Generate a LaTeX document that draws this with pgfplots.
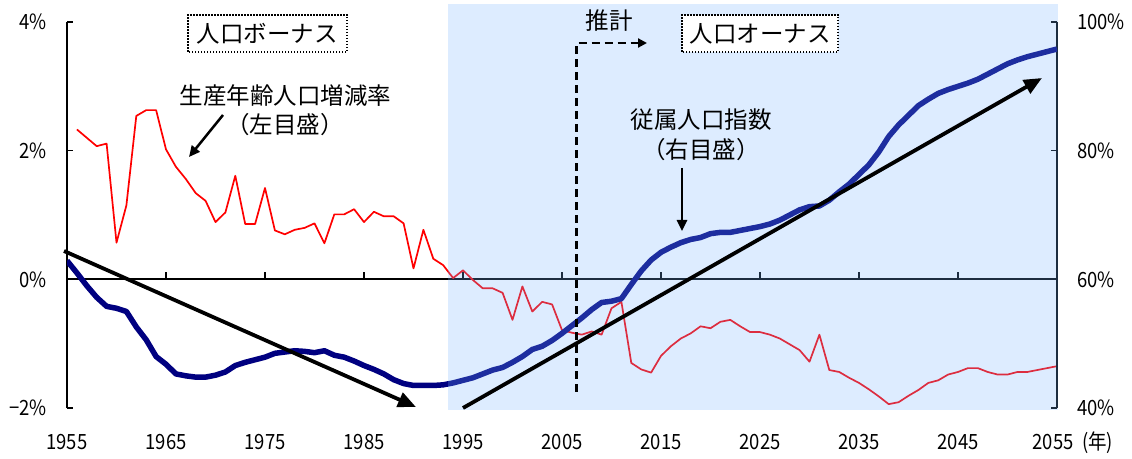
\documentclass[border=0pt]{standalone}
\usepackage{fontspec}
\setmainfont{Noto Sans CJK JP}
\newfontfamily\tickfam[FakeStretch=0.88]{Noto Sans CJK JP}
\usepackage{pgfplots}
\usepackage{pgfplotstable}
\pgfplotsset{compat=1.18}
\usetikzlibrary{arrows.meta}
\definecolor{redline}{RGB}{255,0,0}
\definecolor{navyline}{RGB}{0,0,128}
\definecolor{shadecol}{RGB}{119,180,255}
\newcommand{\tickfont}{\tickfam\fontsize{21bp}{24bp}\selectfont}
\newcommand{\jpfont}{\fontsize{23.5bp}{27bp}\selectfont}
\pgfplotstableread{
year val
1956 2.33
1957 2.20
1958 2.07
1959 2.11
1960 0.57
1961 1.15
1962 2.54
1963 2.63
1964 2.63
1965 2.02
1966 1.75
1967 1.56
1968 1.34
1969 1.22
1970 0.89
1971 1.04
1972 1.61
1973 0.86
1974 0.86
1975 1.42
1976 0.76
1977 0.70
1978 0.77
1979 0.80
1980 0.87
1981 0.56
1982 1.01
1983 1.01
1984 1.09
1985 0.89
1986 1.05
1987 0.98
1988 0.98
1989 0.87
1990 0.17
1991 0.77
1992 0.32
1993 0.22
1994 0.02
1995 0.14
1996 -0.01
1997 -0.14
1998 -0.14
1999 -0.21
2000 -0.63
2001 -0.11
2002 -0.50
2003 -0.35
2004 -0.39
2005 -0.79
2006 -0.83
2007 -0.86
2008 -0.81
2009 -0.86
2010 -0.45
2011 -0.35
2012 -1.30
2013 -1.40
2014 -1.45
2015 -1.19
2016 -1.04
2017 -0.92
2018 -0.84
2019 -0.73
2020 -0.76
2021 -0.66
2022 -0.63
2023 -0.73
2024 -0.82
2025 -0.82
2026 -0.86
2027 -0.92
2028 -1.01
2029 -1.10
2030 -1.28
2031 -0.86
2032 -1.41
2033 -1.44
2034 -1.53
2035 -1.61
2036 -1.71
2037 -1.82
2038 -1.94
2039 -1.91
2040 -1.81
2041 -1.72
2042 -1.61
2043 -1.57
2044 -1.48
2045 -1.44
2046 -1.38
2047 -1.38
2048 -1.44
2049 -1.48
2050 -1.48
2051 -1.44
2052 -1.44
2053 -1.41
2054 -1.38
2055 -1.35
}\redtable
\pgfplotstableread{
year val
1955 62.9
1956 61.0
1957 59.0
1958 57.2
1959 55.8
1960 55.5
1961 55.0
1962 52.6
1963 50.6
1964 48.0
1965 46.8
1966 45.3
1967 45.0
1968 44.8
1969 44.8
1970 45.1
1971 45.6
1972 46.6
1973 47.1
1974 47.5
1975 47.9
1976 48.5
1977 48.7
1978 48.9
1979 48.8
1980 48.6
1981 48.9
1982 48.2
1983 47.9
1984 47.3
1985 46.6
1986 46.0
1987 45.3
1988 44.4
1989 43.8
1990 43.5
1991 43.5
1992 43.5
1993 43.6
1994 43.9
1995 44.3
1996 44.7
1997 45.3
1998 45.9
1999 46.3
2000 47.1
2001 48.0
2002 49.1
2003 49.6
2004 50.5
2005 51.6
2006 52.8
2007 54.0
2008 55.3
2009 56.4
2010 56.6
2011 57.0
2012 59.2
2013 61.3
2014 63.0
2015 64.2
2016 65.0
2017 65.7
2018 66.2
2019 66.5
2020 67.1
2021 67.3
2022 67.3
2023 67.6
2024 67.9
2025 68.2
2026 68.6
2027 69.2
2028 70.0
2029 70.8
2030 71.3
2031 71.4
2032 72.3
2033 73.6
2034 74.8
2035 76.3
2036 77.8
2037 79.8
2038 82.2
2039 84.0
2040 85.5
2041 87.0
2042 88.0
2043 88.9
2044 89.5
2045 90.0
2046 90.5
2047 91.1
2048 91.9
2049 92.7
2050 93.5
2051 94.1
2052 94.6
2053 95.0
2054 95.4
2055 95.8
}\bluetable
\begin{document}
\begin{tikzpicture}
\path[use as bounding box] (0,0) rectangle (1132bp,459bp);
\begin{axis}[
  at={(67bp,51bp)}, anchor=south west,
  scale only axis, width=990bp, height=386bp,
  xmin=1955, xmax=2055, ymin=-2, ymax=4,
  axis y line*=left, axis x line*=bottom,
  x axis line style={draw=none},
  xtick={1955,1965,1975,1985,1995,2005,2015,2025,2035,2045,2054.6},
  xticklabels={1955,1965,1975,1985,1995,2005,2015,2025,2035,2045,2055},
  xtick style={draw=none},
  ytick={-2,0,2,4}, yticklabels={−2\%,0\%,2\%,4\%},
  ytick style={black, line width=1.2bp},
  tick align=inside, major tick length=6bp,
  y axis line style={black, line width=1.8bp},
  ticklabel style={font=\tickfont, inner sep=0pt},
  yticklabel style={xshift=-20bp},
  xticklabel style={yshift=-26bp},
  clip=false,
]
\draw[black, line width=2bp] (axis cs:1955,0) -- (axis cs:2055,0);
\pgfplotsinvokeforeach{1965,1975,1985,1995,2005,2015,2025,2035,2045}{
  \draw[black, line width=1.2bp] (axis cs:#1,0) -- (axis cs:#1,0.11);
}
\addplot[redline, line width=1.7bp, line join=round] table[x=year,y=val]{\redtable};
\end{axis}
\begin{axis}[
  at={(67bp,51bp)}, anchor=south west,
  scale only axis, width=990bp, height=386bp,
  xmin=1955, xmax=2055, ymin=40, ymax=100,
  axis x line=none, axis y line*=right,
  ytick={40,60,80,100}, yticklabels={40\%,60\%,80\%,100\%},
  tick align=inside, major tick length=6bp,
  ytick style={black, line width=1.2bp},
  y axis line style={black, line width=1.8bp},
  ticklabel style={font=\tickfont, inner sep=0pt},
  yticklabel style={xshift=20bp},
]
\addplot[navyline, line width=5.5bp, line join=round] table[x=year,y=val]{\bluetable};
\end{axis}
\begin{scope}[x=1bp,y=1bp]
% shaded projection region (semi-transparent overlay)
\fill[shadecol, opacity=0.25] (448,49) rectangle (1058,455);
% big trend arrows
\draw[black, line width=3.8bp, -{Triangle[length=18bp,width=15bp]}] (64,208) -- (416,52);
\draw[black, line width=3.8bp, -{Triangle[length=18bp,width=15bp]}] (463,51) -- (1042,381);
% dashed projection marker
\draw[black, line width=2.2bp, dash pattern=on 8bp off 5bp] (576.5,67) -- (576.5,416) -- (636,416);
\draw[black, line width=2.2bp, -{Triangle[length=9bp,width=9bp]}] (636,416) -- (647,416);
\node[font=\jpfont] at (609,438) {推計};
% boxes
\draw[black, line width=1.3bp, dash pattern=on 1.5bp off 1.5bp, fill=white] (188,407) rectangle (347,444);
\node[font=\jpfont] at (267.5,425.5) {人口ボーナス};
\draw[black, line width=1.3bp, dash pattern=on 1.5bp off 1.5bp, fill=white] (682,407) rectangle (838,444);
\node[font=\jpfont] at (760,425.5) {人口オーナス};
% labels
\node[font=\jpfont] at (285.5,363) {生産年齢人口増減率};
\node[font=\jpfont] at (285,334) {（左目盛）};
\draw[black, line width=2.5bp, -{Triangle[length=11bp,width=10bp]}] (223,344) -- (189,302);
\node[font=\jpfont] at (701,339) {従属人口指数};
\node[font=\jpfont] at (701,309) {（右目盛）};
\draw[black, line width=2.5bp, -{Triangle[length=11bp,width=10bp]}] (682,291) -- (682,228);
\node[font=\tickfont, anchor=west, inner sep=0pt] at (1082,16) {(年)};
\end{scope}
\end{tikzpicture}
\end{document}
